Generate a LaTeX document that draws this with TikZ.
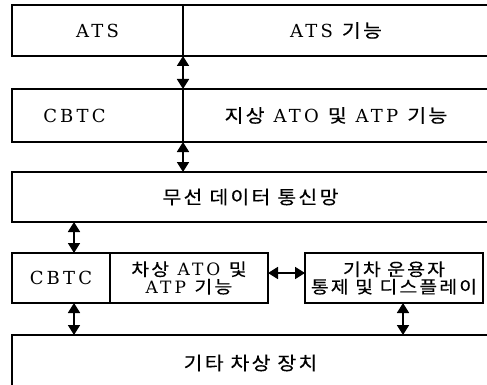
\documentclass[tikz,border=0pt]{standalone}
\usepackage{fontspec}
\setmainfont[LetterSpace=18]{DejaVu Serif}
\newfontfamily\kr[Scale=1.02,FakeStretch=1.12,FakeBold=0.25,LetterSpace=12]{Noto Sans CJK KR}
\newcommand\K[1]{{\kr #1}}
\usetikzlibrary{arrows.meta}

\begin{document}
\begin{tikzpicture}[x=1pt,y=-1pt,
  box/.style={draw, line width=1.8pt, inner sep=0pt, outer sep=0pt,
    anchor=north west, align=center,
    font=\fontsize{18}{18}\selectfont},
  smalltext/.style={font=\fontsize{17}{17.5}\selectfont},
  arr/.style={line width=1.7pt,
    {Triangle[width=12pt,length=10pt]}-{Triangle[width=12pt,length=10pt]}}]
\useasboundingbox (0,0) rectangle (487,385);
\clip (0,0) rectangle (487,385);

% wayside layers
\node[box, minimum width=171pt, minimum height=51pt] (ats)  at (12,5)  {ATS};
\node[box, minimum width=306pt, minimum height=51pt] (atsf) at (183,5) {ATS \K{기능}};
\node[box, minimum width=171pt, minimum height=53pt] (cbtc) at (12,89)  {\hspace*{-46pt}CBTC};
\node[box, minimum width=306pt, minimum height=53pt] (gnd)  at (183,89) {\K{지상} ATO \K{및} ATP \K{기능}};

% radio network
\node[box, minimum width=477pt, minimum height=50pt] (net) at (12,172) {\K{무선 데이터 통신망}};

% on-board layer
\node[box, minimum width=98pt,  minimum height=50pt] (obc) at (12,253)  {CBTC};
\node[box, smalltext, minimum width=158pt, minimum height=50pt] (onb) at (110,253) {\K{차상} ATO \K{및}\\ATP \K{기능}};
\node[box, smalltext, minimum width=178pt, minimum height=50pt] (dmi) at (305,253) {\K{기차 운용자}\\\K{통제 및 디스플레이}};
\node[box, minimum width=477pt, minimum height=56pt] (etc) at (12,335) {\K{기타 차상 장치}};

% connector positions
\coordinate (xl) at (74,0);
\coordinate (xr) at (403,0);
\coordinate (ym) at (0,273);

\draw[arr] (ats.south east) -- (cbtc.north east);
\draw[arr] (cbtc.south east) -- (net.north -| cbtc.east);
\draw[arr] (net.south -| xl) -- (obc.north -| xl);
\draw[arr] (onb.east |- ym) -- (dmi.west |- ym);
\draw[arr] (obc.south -| xl) -- (etc.north -| xl);
\draw[arr] (dmi.south -| xr) -- (etc.north -| xr);
\end{tikzpicture}
\end{document}
